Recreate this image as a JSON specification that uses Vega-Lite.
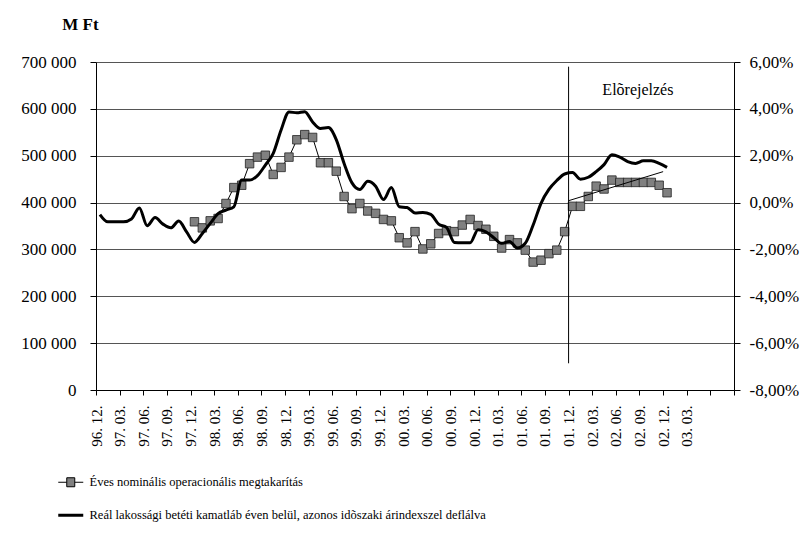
{
  "$schema": "https://vega.github.io/schema/vega-lite/v6.json",
  "width": 638,
  "height": 328,
  "autosize": {"type": "none"},
  "padding": {"left": 96, "top": 62, "right": 69, "bottom": 143},
  "background": "white",
  "config": {
    "view": {"stroke": null},
    "axis": {
      "labelFont": "Liberation Serif",
      "labelColor": "black",
      "domainColor": "black",
      "tickColor": "black",
      "titleFont": "Liberation Serif",
      "titleColor": "black",
      "labelOverlap": false
    },
    "legend": {"labelFont": "Liberation Serif", "labelColor": "black"},
    "text": {"font": "Liberation Serif"}
  },
  "datasets": {
    "main": [
      {"m": 0, "rate": -0.51, "sav": null},
      {"m": 1, "rate": -0.82, "sav": null},
      {"m": 2, "rate": -0.82, "sav": null},
      {"m": 3, "rate": -0.82, "sav": null},
      {"m": 4, "rate": -0.70, "sav": null},
      {"m": 5, "rate": -0.23, "sav": null},
      {"m": 6, "rate": -0.99, "sav": null},
      {"m": 7, "rate": -0.64, "sav": null},
      {"m": 8, "rate": -0.92, "sav": null},
      {"m": 9, "rate": -1.08, "sav": null},
      {"m": 10, "rate": -0.79, "sav": null},
      {"m": 11, "rate": -1.25, "sav": null},
      {"m": 12, "rate": -1.70, "sav": 359000},
      {"m": 13, "rate": -1.32, "sav": 346000},
      {"m": 14, "rate": -0.89, "sav": 361000},
      {"m": 15, "rate": -0.47, "sav": 366000},
      {"m": 16, "rate": -0.32, "sav": 398000},
      {"m": 17, "rate": -0.18, "sav": 432000},
      {"m": 18, "rate": 0.96, "sav": 437000},
      {"m": 19, "rate": 0.96, "sav": 483000},
      {"m": 20, "rate": 1.15, "sav": 497000},
      {"m": 21, "rate": 1.60, "sav": 501000},
      {"m": 22, "rate": 2.10, "sav": 460000},
      {"m": 23, "rate": 3.10, "sav": 475000},
      {"m": 24, "rate": 3.87, "sav": 497000},
      {"m": 25, "rate": 3.83, "sav": 534000},
      {"m": 26, "rate": 3.88, "sav": 545000},
      {"m": 27, "rate": 3.44, "sav": 539000},
      {"m": 28, "rate": 3.16, "sav": 485000},
      {"m": 29, "rate": 3.20, "sav": 485000},
      {"m": 30, "rate": 2.69, "sav": 467000},
      {"m": 31, "rate": 1.67, "sav": 413000},
      {"m": 32, "rate": 0.84, "sav": 387000},
      {"m": 33, "rate": 0.56, "sav": 398000},
      {"m": 34, "rate": 0.91, "sav": 382000},
      {"m": 35, "rate": 0.70, "sav": 377000},
      {"m": 36, "rate": 0.13, "sav": 364000},
      {"m": 37, "rate": 0.64, "sav": 361000},
      {"m": 38, "rate": -0.18, "sav": 325000},
      {"m": 39, "rate": -0.21, "sav": 314000},
      {"m": 40, "rate": -0.44, "sav": 338000},
      {"m": 41, "rate": -0.42, "sav": 301000},
      {"m": 42, "rate": -0.50, "sav": 312000},
      {"m": 43, "rate": -0.92, "sav": 334000},
      {"m": 44, "rate": -1.06, "sav": 340000},
      {"m": 45, "rate": -1.70, "sav": 338000},
      {"m": 46, "rate": -1.72, "sav": 352000},
      {"m": 47, "rate": -1.72, "sav": 364000},
      {"m": 48, "rate": -1.16, "sav": 351000},
      {"m": 49, "rate": -1.25, "sav": 343000},
      {"m": 50, "rate": -1.50, "sav": 328000},
      {"m": 51, "rate": -1.74, "sav": 303000},
      {"m": 52, "rate": -1.66, "sav": 321000},
      {"m": 53, "rate": -1.94, "sav": 314000},
      {"m": 54, "rate": -1.74, "sav": 298500},
      {"m": 55, "rate": -0.96, "sav": 273000},
      {"m": 56, "rate": -0.03, "sav": 277000},
      {"m": 57, "rate": 0.56, "sav": 291000},
      {"m": 58, "rate": 0.94, "sav": 298500},
      {"m": 59, "rate": 1.22, "sav": 338000},
      {"m": 60, "rate": 1.28, "sav": 392000},
      {"m": 61, "rate": 1.00, "sav": 392000},
      {"m": 62, "rate": 1.08, "sav": 413000},
      {"m": 63, "rate": 1.32, "sav": 435000},
      {"m": 64, "rate": 1.62, "sav": 429000},
      {"m": 65, "rate": 2.04, "sav": 448000},
      {"m": 66, "rate": 1.94, "sav": 443000},
      {"m": 67, "rate": 1.75, "sav": 443000},
      {"m": 68, "rate": 1.67, "sav": 443000},
      {"m": 69, "rate": 1.78, "sav": 443000},
      {"m": 70, "rate": 1.78, "sav": 443000},
      {"m": 71, "rate": 1.67, "sav": 437000},
      {"m": 72, "rate": 1.50, "sav": 421000}
    ],
    "trend": [
      {"m": 59.5, "sav": 404000},
      {"m": 71.5, "sav": 466000}
    ]
  },
  "layer": [
    {
      "layer": [
        {
          "data": {"name": "main"},
          "mark": {"type": "line", "strokeWidth": 1},
          "encoding": {
            "x": {
              "field": "m",
              "type": "quantitative",
              "scale": {"domain": [-0.5, 80.5], "nice": false, "zero": false},
              "axis": {
                "title": null,
                "values": [-0.5, 2.5, 5.5, 8.5, 11.5, 14.5, 17.5, 20.5, 23.5, 26.5, 29.5, 32.5, 35.5, 38.5, 41.5, 44.5, 47.5, 50.5, 53.5, 56.5, 59.5, 62.5, 65.5, 68.5, 71.5, 74.5, 77.5, 80.5],
                "tickCount": 40,
                "labelExpr": "['96. 12.','97. 03.','97. 06.','97. 09.','97. 12.','98. 03.','98. 06.','98. 09.','98. 12.','99. 03.','99. 06.','99. 09.','99. 12.','00. 03.','00. 06.','00. 09.','00. 12.','01. 03.','01. 06.','01. 09.','01. 12.','02. 03.','02. 06.','02. 09.','02. 12.','03. 03.','',''][round((datum.value + 0.5) / 3)]",
                "labelAngle": 270,
                "labelAlign": "right",
                "labelBaseline": "middle",
                "labelFont": "Liberation Serif",
                "labelFontSize": 15,
                "labelPadding": 10,
                "labelOverlap": false,
                "labelFlush": false,
                "labelBound": false,
                "tickSize": 5,
                "grid": false,
                "domainWidth": 1
              }
            },
            "y": {
              "field": "sav",
              "type": "quantitative",
              "scale": {"domain": [0, 700000], "nice": false},
              "axis": {
                "orient": "left",
                "values": [0, 100000, 200000, 300000, 400000, 500000, 600000, 700000],
                "tickCount": 20,
                "labelExpr": "datum.value == 0 ? '0' : (datum.value / 1000) + ' 000'",
                "labelFont": "Liberation Serif",
                "labelFontSize": 17,
                "labelPadding": 14,
                "labelOverlap": false,
                "labelFlush": false,
                "tickSize": 6,
                "grid": true,
                "gridColor": "#555555",
                "gridWidth": 1,
                "title": "M Ft",
                "titleAngle": 0,
                "titleX": -16,
                "titleY": -38,
                "titleAlign": "center",
                "titleBaseline": "middle",
                "titleFontSize": 17,
                "titleFontWeight": "bold"
              }
            },
            "color": {
              "datum": "Éves nominális operacionális megtakarítás",
              "type": "nominal",
              "scale": {
                "domain": ["Éves nominális operacionális megtakarítás", "Reál lakossági betéti kamatláb éven belül, azonos idõszaki árindexszel deflálva"],
                "range": ["black", "black"]
              },
              "legend": {
                "title": null,
                "orient": "none",
                "legendX": -31.5,
                "legendY": 414,
                "direction": "vertical",
                "padding": 0,
                "labelFont": "Liberation Serif",
                "labelFontSize": 12.5,
                "labelOffset": 12.5,
                "labelLimit": 0,
                "rowPadding": 20,
                "encode": {
                  "symbols": {
                    "update": {
                      "shape": {"signal": "datum.index === 0 ? 'M-2.5,0H-0.8M0.8,0H2.5M-0.8,-0.9H0.8V0.9H-0.8Z' : 'M-2.5,0H2.5'"},
                      "fill": {"signal": "datum.index === 0 ? '#808080' : 'transparent'"},
                      "stroke": {"value": "black"},
                      "strokeWidth": {"signal": "datum.index === 0 ? 1 : 3"},
                      "opacity": {"value": 1}
                    }
                  }
                }
              }
            }
          }
        },
        {
          "data": {"name": "main"},
          "mark": {"type": "square", "size": 72, "fill": "#808080", "stroke": "#222222", "strokeWidth": 0.8, "opacity": 1},
          "encoding": {
            "x": {"field": "m", "type": "quantitative"},
            "y": {"field": "sav", "type": "quantitative"}
          }
        },
        {
          "data": {"name": "trend"},
          "mark": {"type": "line", "strokeWidth": 1, "color": "black"},
          "encoding": {
            "x": {"field": "m", "type": "quantitative"},
            "y": {"field": "sav", "type": "quantitative"}
          }
        },
        {
          "data": {"values": [{}]},
          "mark": {"type": "rule", "color": "black", "strokeWidth": 1},
          "encoding": {
            "x": {"datum": 59.5, "type": "quantitative"},
            "y": {"datum": 57000, "type": "quantitative"},
            "y2": {"datum": 690000}
          }
        },
        {
          "data": {"values": [{}]},
          "mark": {"type": "text", "text": "Elõrejelzés", "fontSize": 16, "font": "Liberation Serif", "align": "center", "baseline": "middle", "color": "black"},
          "encoding": {
            "x": {"datum": 68.3, "type": "quantitative"},
            "y": {"datum": 640000, "type": "quantitative"}
          }
        }
      ]
    },
    {
      "data": {"name": "main"},
      "mark": {"type": "line", "strokeWidth": 3, "interpolate": "monotone"},
      "encoding": {
        "x": {"field": "m", "type": "quantitative"},
        "y": {
          "field": "rate",
          "type": "quantitative",
          "scale": {"domain": [-8, 6], "nice": false, "zero": false},
          "axis": {
            "orient": "right",
            "title": null,
            "values": [-8, -6, -4, -2, 0, 2, 4, 6],
            "tickCount": 20,
            "labelExpr": "(datum.value < 0 ? '-' : '') + abs(datum.value) + ',00%'",
            "labelFont": "Liberation Serif",
            "labelFontSize": 17,
            "labelPadding": 9,
            "labelOverlap": false,
            "labelFlush": false,
            "tickSize": 6,
            "grid": false
          }
        },
        "color": {
          "datum": "Reál lakossági betéti kamatláb éven belül, azonos idõszaki árindexszel deflálva",
          "type": "nominal"
        }
      }
    }
  ],
  "resolve": {"scale": {"y": "independent"}}
}
